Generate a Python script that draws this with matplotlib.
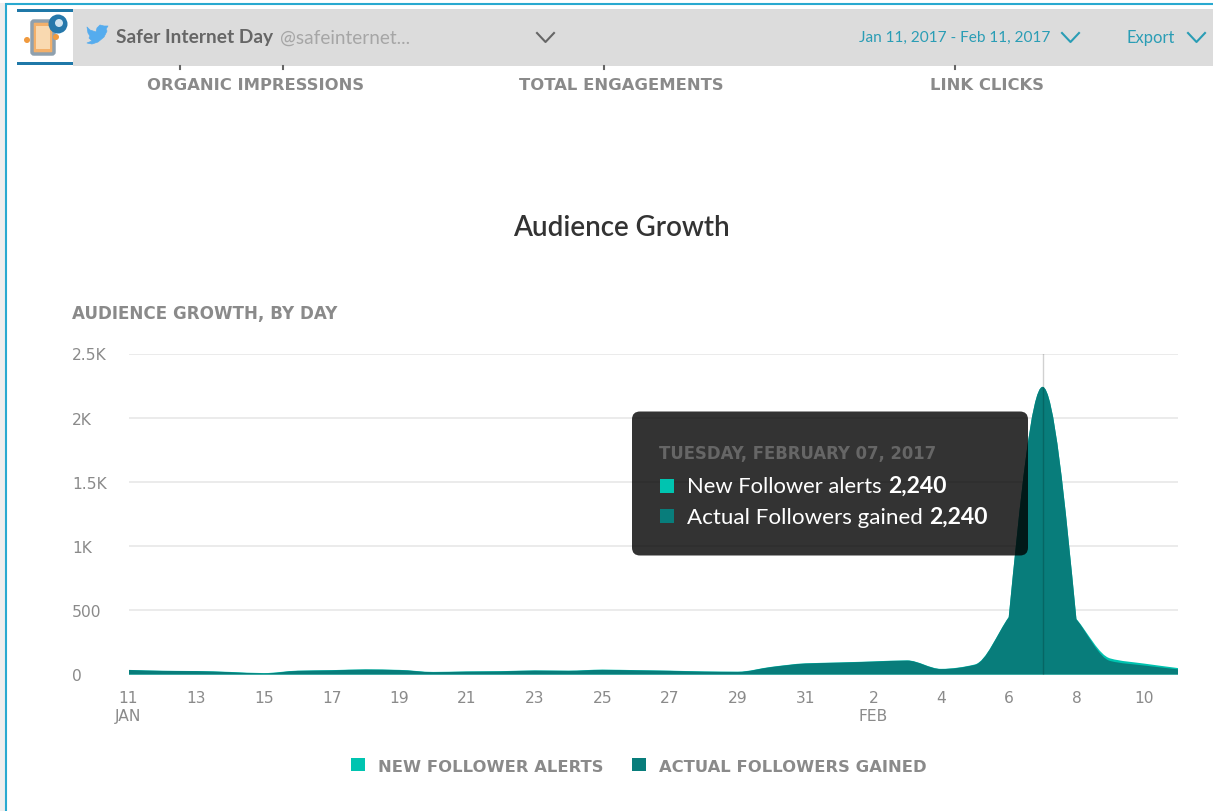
import numpy as np
import matplotlib
matplotlib.use("Agg")
import matplotlib.pyplot as plt
from matplotlib.patches import FancyBboxPatch, PathPatch, Patch, Rectangle, Circle, Polygon
from matplotlib.path import Path

# daily values, Jan 11 - Feb 11
days = list(range(32))
new_follower_alerts = [36, 29, 27, 20, 11, 30, 34, 40, 36, 20, 24, 26, 32, 30, 38, 34, 30, 24, 22, 60, 87, 94,
                       102, 110, 44, 78, 447, 2240, 432, 125, 85, 50]
actual_followers = [35, 28, 26, 18, 8, 28, 32, 38, 34, 18, 22, 24, 30, 28, 36, 32, 28, 22, 20, 58, 85, 92,
                    100, 108, 42, 75, 445, 2240, 430, 105, 70, 40]

x_ticks = list(range(0, 32, 2))
x_labels = ["11\nJAN", "13", "15", "17", "19", "21", "23", "25", "27", "29", "31", "2\nFEB", "4", "6", "8", "10"]
y_ticks = [0, 500, 1000, 1500, 2000, 2500]
y_labels = ["0", "500", "1K", "1.5K", "2K", "2.5K"]

W, H = 1213, 812
ALERT_COL = "#00c4b0"
ACTUAL_COL = "#087d7b"
GREY_TXT = "#8a8a8a"
CAPS_FONT = "DejaVu Sans"
plt.rcParams["font.family"] = ["Lato", "DejaVu Sans"]


def px(size):
    return size * 0.72


def area_path(xs, ys):
    # monotone cubic through the daily values, with a corner either side of the peak
    xs = np.asarray(xs, float)
    ys = np.asarray(ys, float)
    d = np.diff(ys)
    m = np.zeros(len(ys))
    for i in range(1, len(ys) - 1):
        if d[i - 1] * d[i] > 0:
            m[i] = 2 * d[i - 1] * d[i] / (d[i - 1] + d[i])
    m[0], m[-1] = d[0], d[-1]
    m_in, m_out = m.copy(), m.copy()
    for i in range(1, len(ys) - 1):
        big, small = max(abs(d[i - 1]), abs(d[i])), min(abs(d[i - 1]), abs(d[i]))
        if ys[i] > 200 and big > 3 * small and m[i] != 0:
            m_in[i], m_out[i] = d[i - 1], d[i]
            # steeper start when the segment runs into a rounded peak
            if abs(d[i]) > abs(d[i - 1]) and m[i + 1] == 0:
                m_out[i] = 1.5 * d[i]
            if abs(d[i - 1]) > abs(d[i]) and m[i - 1] == 0:
                m_in[i] = 1.5 * d[i - 1]
    verts = [(xs[0], 0), (xs[0], ys[0])]
    codes = [Path.MOVETO, Path.LINETO]
    for i in range(len(xs) - 1):
        verts += [(xs[i] + 1 / 3, ys[i] + m_out[i] / 3), (xs[i + 1] - 1 / 3, ys[i + 1] - m_in[i + 1] / 3),
                  (xs[i + 1], ys[i + 1])]
        codes += [Path.CURVE4] * 3
    verts += [(xs[-1], 0), (xs[0], 0)]
    codes += [Path.LINETO, Path.CLOSEPOLY]
    return Path(verts, codes)


fig = plt.figure(figsize=(W / 100, H / 100), dpi=100, facecolor="white")

# chart
left, right, top, bottom = 128.5, 1178, 354.5, 675.5
ax = fig.add_axes([left / W, 1 - bottom / H, (right - left) / W, (bottom - top) / H])
ax.set_xlim(0, 31)
ax.set_ylim(0, 2500)
ax.add_patch(PathPatch(area_path(days, new_follower_alerts), fc=ALERT_COL, ec="none", zorder=2))
ax.add_patch(PathPatch(area_path(days, actual_followers), fc=ACTUAL_COL, ec="none", zorder=3))
ax.axvline(27, color="#000000", alpha=0.18, lw=1, zorder=4)
ax.set_xticks(x_ticks)
ax.set_xticklabels(x_labels, fontsize=px(15.5), color=GREY_TXT, linespacing=1.25, family=CAPS_FONT)
ax.set_yticks(y_ticks)
ax.set_yticklabels(y_labels, fontsize=px(15.5), color=GREY_TXT, ha="left", family=CAPS_FONT)
ax.tick_params(axis="x", length=0, pad=11)
ax.tick_params(axis="y", length=0, pad=56.5 * 0.72)
ax.grid(axis="y", color="#e8e8e8", lw=1.2, zorder=0)
ax.set_axisbelow(True)
for s in ax.spines.values():
    s.set_visible(False)

fig.legend(handles=[Patch(fc=ALERT_COL, label="NEW FOLLOWER ALERTS"), Patch(fc=ACTUAL_COL, label="ACTUAL FOLLOWERS GAINED")],
           loc="center", bbox_to_anchor=(639 / W, 1 - 767 / H), ncols=2, frameon=False, handlelength=0.85, handleheight=0.85,
           columnspacing=1.75, handletextpad=0.8, labelcolor=GREY_TXT, prop={"size": px(16.4), "family": CAPS_FONT, "weight": "bold"})

# page furniture in pixel coordinates
ui = fig.add_axes([0, 0, 1, 1], zorder=5)
ui.set_xlim(0, W)
ui.set_ylim(H, 0)
ui.axis("off")
ui.patch.set_alpha(0)

ui.add_patch(Rectangle((0, 4), 5.5, H, fc="#eeeeee", ec="none"))
ui.plot([5.5, 5.5, W], [H, 4.5, 4.5], color="#29a9d0", lw=1.5, solid_joinstyle="miter")
ui.add_patch(Rectangle((73, 10), W - 73, 57, fc="#dcdcdc", ec="none"))
for x0 in [180, 283, 604, 955]:
    ui.plot([x0, x0], [67, 69.5], color="#666666", lw=1.5)

# logo
ui.add_patch(Rectangle((17, 10), 56, 3, fc="#1f78a8", ec="none"))
ui.add_patch(Rectangle((17, 62.5), 56, 3, fc="#1f78a8", ec="none"))
ui.add_patch(FancyBboxPatch((32, 22), 22, 33, boxstyle="round,pad=0,rounding_size=2", fc="#f3b06a", ec="#8fa0ae", lw=2.5))
ui.add_patch(Rectangle((36, 27), 14, 23, fc="#f9d9b0", ec="none"))
ui.add_patch(Circle((58, 25), 9.5, fc="#2678ab", ec="none"))
ui.add_patch(Circle((59, 24), 4, fc="#cfe3ef", ec="none"))
ui.add_patch(Circle((27, 41), 3, fc="#f09a3e", ec="none"))
ui.add_patch(Circle((56, 38), 3, fc="#f09a3e", ec="none"))

# twitter bird
bird = [(87, 28), (90, 31), (96, 33), (97, 29), (100, 26), (104, 27), (108, 27), (106, 30), (107, 32), (104, 38),
        (98, 43), (92, 45), (87, 44), (92, 42), (89, 39), (90, 37), (88, 34)]
ui.add_patch(Polygon(bird, closed=True, fc="#55acee", ec="#55acee", lw=0.5, joinstyle="round"))

ui.text(116, 38, "Safer Internet Day", fontsize=px(19.2), color="#666666", weight="bold", va="center")
ui.text(280, 38, "@safeinternet...", fontsize=px(19), color="#a6a6a6", va="center")
ui.text(859, 38, "Jan 11, 2017 - Feb 11, 2017", fontsize=px(15.4), color="#2a9db5", va="center")
ui.text(1127, 38, "Export", fontsize=px(16.5), color="#2a9db5", va="center")
for x0, col in [(537, "#666666"), (1062, "#2a9db5"), (1188, "#2a9db5")]:
    ui.plot([x0, x0 + 8.5, x0 + 17], [34, 43, 34], color=col, lw=1.5)

for cx, label in [(255.5, "ORGANIC IMPRESSIONS"), (621, "TOTAL ENGAGEMENTS"), (986.5, "LINK CLICKS")]:
    ui.text(cx, 85, label, fontsize=px(16.4), color=GREY_TXT, weight="bold", ha="center", va="center", family=CAPS_FONT)
ui.text(621.5, 227.5, "Audience Growth", fontsize=px(27.8), color="#333333", weight="semibold", ha="center", va="center")
ui.text(72, 314.5, "AUDIENCE GROWTH, BY DAY", fontsize=px(16.7), color=GREY_TXT, weight="bold", va="center", family=CAPS_FONT)

# tooltip
ui.add_patch(FancyBboxPatch((632, 412.5), 396, 144, boxstyle="round,pad=0,rounding_size=8", fc="#000000", ec="none", alpha=0.8))
ui.text(659, 454, "TUESDAY, FEBRUARY 07, 2017", fontsize=px(16.5), color="#666666", weight="bold", va="center", family=CAPS_FONT)
ui.add_patch(Rectangle((660, 480), 14, 14, fc=ALERT_COL, ec="none"))
ui.add_patch(Rectangle((660, 510), 14, 14, fc=ACTUAL_COL, ec="none"))
ui.text(687, 487, "New Follower alerts", fontsize=px(22), color="white", va="center")
ui.text(888, 486, "2,240", fontsize=px(23), color="white", weight="bold", va="center")
ui.text(687, 518, "Actual Followers gained", fontsize=px(22.4), color="white", va="center")
ui.text(929, 517, "2,240", fontsize=px(23), color="white", weight="bold", va="center")

fig.savefig("out.png", dpi=100)
